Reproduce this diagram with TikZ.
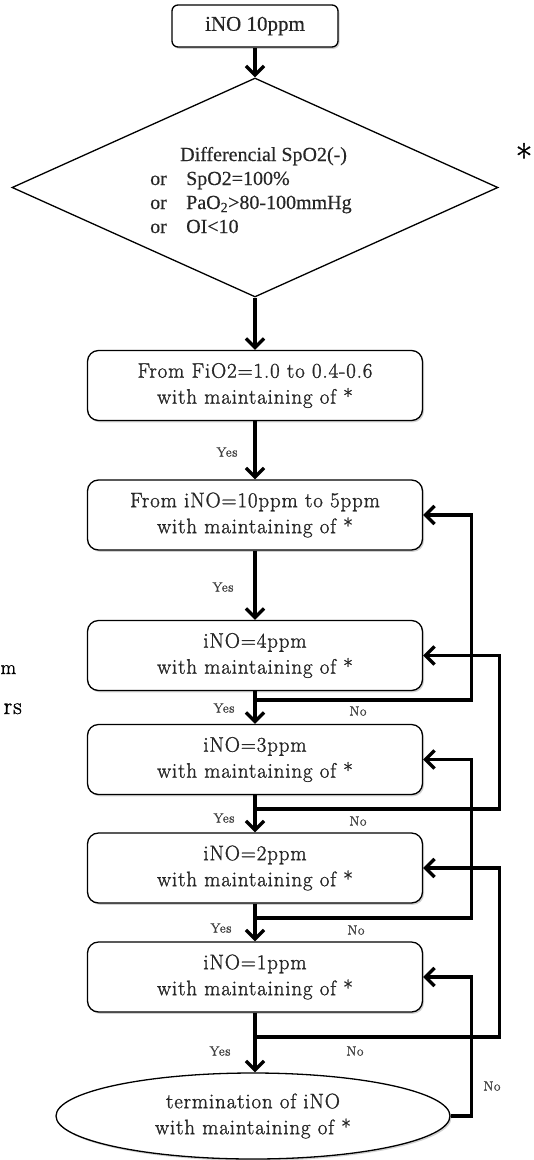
\documentclass[tikz,border=0pt]{standalone}
\usepackage{fontspec}
\newfontfamily\tms{Liberation Serif}[FakeBold=0.4]
\newfontfamily\cent{Latin Modern Roman}[FakeBold=1.2, LetterSpace=4]
\usetikzlibrary{arrows.meta,shapes.geometric,shadows}
\begin{document}
\begin{tikzpicture}[x=1pt,y=-1pt,
  shade/.style={drop shadow={shadow xshift=1.5pt,shadow yshift=-1.8pt,opacity=0.18,fill=black}},
  stepbox/.style={draw, line width=1.3pt, rounded corners=11pt, fill=white,
    minimum width=335pt, minimum height=70pt, align=center, inner sep=0pt,
    font=\cent\fontsize{21}{26}\selectfont, text=black!85, shade},
  conn/.style={line width=3.4pt, -{Straight Barb[length=9pt,width=18pt]}},
  lab/.style={font=\cent\fontsize{13.5}{14}\selectfont, text=black!75, inner sep=0pt},
  dtext/.style={font=\tms\fontsize{20}{22}\selectfont, text=black!85, inner sep=0pt, anchor=base west}]
\useasboundingbox (0,0) rectangle (534,1160);

% nodes
\node[stepbox, minimum width=166pt, minimum height=42pt, rounded corners=6pt,
      font=\tms\fontsize{21}{24}\selectfont] (top) at (255,26) {iNO 10ppm};

\node[diamond, draw, line width=1.3pt, fill=white, aspect=2.21, minimum width=486pt,
      minimum height=219pt, inner sep=0pt] (dia) at (255,187.5) {};
\node[dtext] (d1) at (180,161) {Differencial SpO2(-)};
\node[dtext] (o2) at (150,185) {or};
\node[dtext] (v2) at (186,185) {SpO2=100\%};
\node[dtext] (o3) at (150,209) {or};
\node[dtext] (v3) at (186,209) {PaO\textsubscript{2}>80-100mmHg};
\node[dtext] (o4) at (150,233) {or};
\node[dtext] (v4) at (186,233) {OI<10};

\node[font=\cent\fontsize{36}{36}\selectfont, inner sep=0pt, anchor=base] (star) at (524,170) {*};

\node[stepbox] (fio) at (255,385.5) {From FiO2=1.0 to 0.4-0.6\\with maintaining of *};
\node[stepbox] (b5) at (255,515) {From iNO=10ppm to 5ppm\\with maintaining of *};
\node[stepbox] (b4) at (255,655.5) {iNO=4ppm\\with maintaining of *};
\node[stepbox] (b3) at (255,759.5) {iNO=3ppm\\with maintaining of *};
\node[stepbox] (b2) at (255,868) {iNO=2ppm\\with maintaining of *};
\node[stepbox] (b1) at (255,977) {iNO=1ppm\\with maintaining of *};
\node[ellipse, draw, line width=1.3pt, fill=white, minimum width=394pt, minimum height=86pt,
      align=center, font=\cent\fontsize{21}{26}\selectfont, text=black!85, shade] (ell) at (253,1116)
      {termination of iNO\\with maintaining of *};

\node[font=\cent\fontsize{20}{24}\selectfont, inner sep=0pt, anchor=base west] (frag1) at (0.5,674) {m};
\node[font=\cent\fontsize{24}{28}\selectfont, inner sep=0pt, anchor=base east] (frag2) at (22,714) {rs};

% junctions
\coordinate (j4) at (255,700);
\coordinate (j3) at (255,809);
\coordinate (j2) at (255,918);
\coordinate (j1) at (255,1037);

% main flow
\draw[conn] (top.south) -- (dia.north);
\draw[conn] (dia.south) -- (fio.north);
\draw[conn] (fio.south) -- (b5.north);
\draw[conn] (b5.south) -- (b4.north);
\draw[conn] (b4.south) -- (b3.north);
\draw[conn] (b3.south) -- (b2.north);
\draw[conn] (b2.south) -- (b1.north);
\draw[conn] (b1.south) -- (b1.south |- ell.north);

% loops back
\draw[conn] (j4) -| ([xshift=48.5pt]b5.east) -- (b5.east);
\draw[conn] (j3) -| ([xshift=76.5pt]b4.east) -- (b4.east);
\draw[conn] (j2) -| ([xshift=48.5pt]b3.east) -- (b3.east);
\draw[conn] (j1) -| ([xshift=76.5pt]b2.east) -- (b2.east);
\draw[conn] (ell.east) -| ([xshift=48.5pt]b1.east) -- (b1.east);

% labels
\node[lab] (y0) at (227,452) {Yes};
\node[lab] (y5) at (223,587) {Yes};
\node[lab] (y4) at (224,708) {Yes};
\node[lab] (n4) at (358,711) {No};
\node[lab] (y3) at (224,818) {Yes};
\node[lab] (n3) at (358,821) {No};
\node[lab] (y2) at (221,928) {Yes};
\node[lab] (n2) at (356,930) {No};
\node[lab] (y1) at (220,1051) {Yes};
\node[lab] (n1) at (355,1051) {No};
\node[lab] (n0) at (492,1086) {No};
\end{tikzpicture}
\end{document}
